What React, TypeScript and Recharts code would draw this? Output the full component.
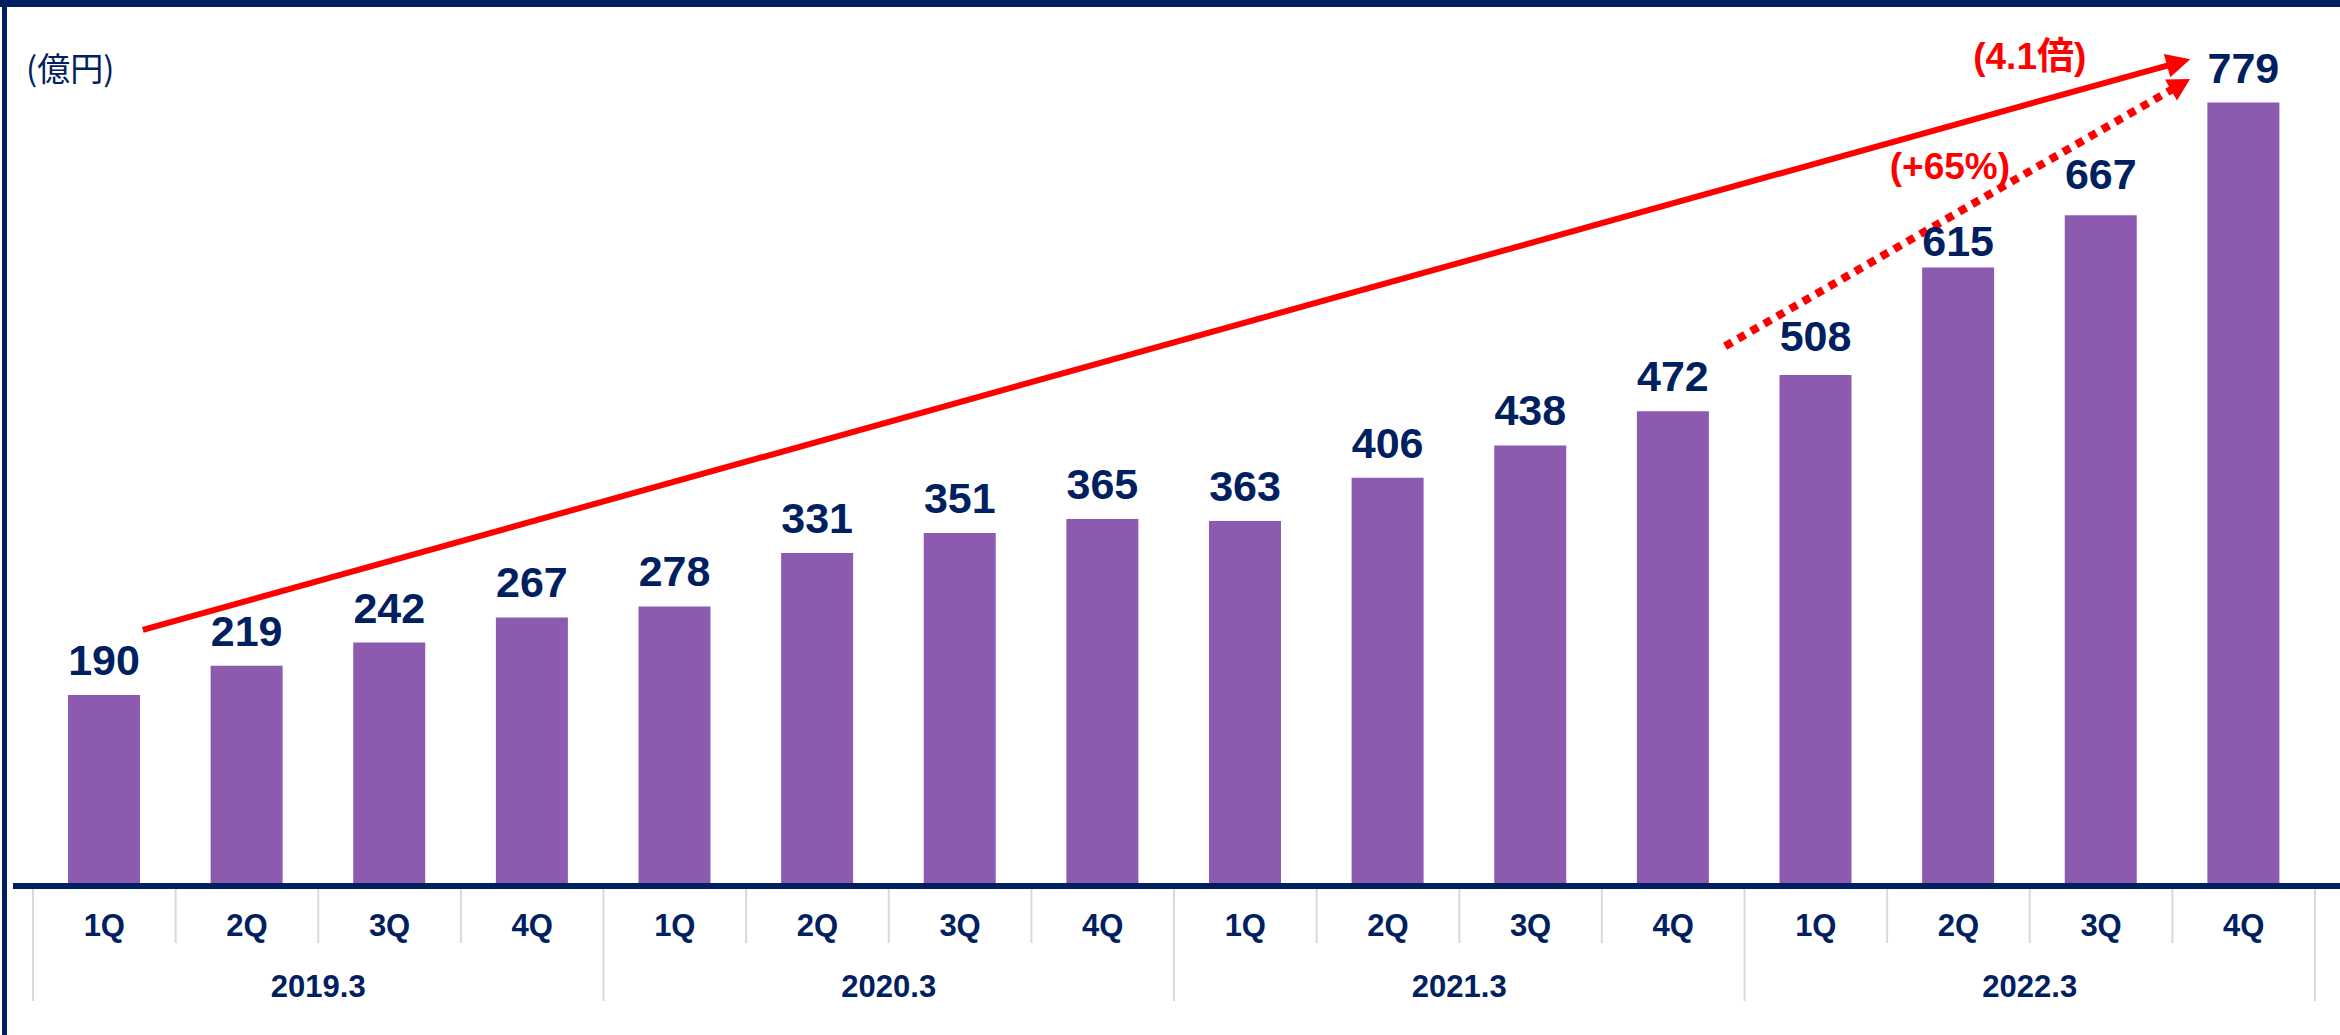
import React from 'react';
import {BarChart,Bar,XAxis,YAxis,LabelList,ReferenceLine} from 'recharts';

// 売上高 四半期推移（億円）
const quarters=['1Q','2Q','3Q','4Q','1Q','2Q','3Q','4Q','1Q','2Q','3Q','4Q','1Q','2Q','3Q','4Q'];
const fiscalYears=['2019.3','2019.3','2019.3','2019.3','2020.3','2020.3','2020.3','2020.3','2021.3','2021.3','2021.3','2021.3','2022.3','2022.3','2022.3','2022.3'];
const sales=[190,219,242,267,278,331,351,365,363,406,438,472,508,615,667,779];
const unitLabel='(億円)';

// growth arrows: category index + value at each end, trimmed to the drawn part
const arrowFrom=[0,11];
const arrowFromValue=[244,507];
const arrowTo=[15,15];
const arrowToValue=[837,833];
const arrowText=['(4.1倍)','(+65%)'];

const W=2340,H=1035;
const M={top:6,right:25,bottom:34,left:33};
const BW=(W-M.left-M.right)/16;
const NAVY='#002060',PURPLE='#8C5BB0',RED='#FF0000',GRID='#D9D9D9';
const FONT="'Liberation Sans', Arial, 'Noto Sans CJK JP', sans-serif";

const rows=sales.map((v,i)=>({key:`${fiscalYears[i]}-${quarters[i]}`,q:quarters[i],fy:fiscalYears[i],v}));

// per-arrow drawing tweaks (trim fractions, label spot)
const arrowStyle=[
  {t0:0.018,t1:0.975,at:0.90,lift:47,dashed:false},
  {t0:0.091,t1:0.906,at:0.485,lift:51,dashed:true},
];
// some value labels sit a little higher / lower than the default 20px
const labelLift:{[k:number]:number}={12:24,13:11,14:26};

const arrowShape=(i:number)=>(p:any)=>{
  const s=arrowStyle[i];
  const {x1,y1,x2,y2}=p;
  const dx=x2-x1,dy=y2-y1;
  const sx=x1+dx*s.t0,sy=y1+dy*s.t0,ex=x1+dx*s.t1,ey=y1+dy*s.t1;
  const len=Math.hypot(ex-sx,ey-sy),ux=(ex-sx)/len,uy=(ey-sy)/len;
  const head=s.dashed?22:24,half=12;
  const bx=ex-ux*head,by=ey-uy*head;
  const pts=`${ex},${ey} ${bx-uy*half},${by+ux*half} ${bx+uy*half},${by-ux*half}`;
  return(
    <g>
      <line x1={sx} y1={sy} x2={bx+ux*2} y2={by+uy*2} stroke={RED} strokeWidth={s.dashed?8:6} strokeDasharray={s.dashed?'8 7':undefined}/>
      <polygon points={pts} fill={RED}/>
      <text x={x1+dx*s.at} y={y1+dy*s.at-s.lift} textAnchor="middle" dominantBaseline="central" fill={RED} fontSize={37} fontWeight="bold" fontFamily={FONT}>{arrowText[i]}</text>
    </g>
  );
};

const axisShape=(p:any)=><line x1={p.x1-20} y1={p.y1} x2={W} y2={p.y2} stroke={NAVY} strokeWidth={6}/>;

// two-row category axis: quarter row, then fiscal-year row
const CatTick=(p:any)=>{
  const {x,y,payload}=p;
  const i=rows.findIndex(d=>d.key===payload.value);
  if(i<0)return null;
  const r=rows[i];
  const first=i===0||rows[i-1].fy!==r.fy;
  const last=i===rows.length-1;
  return(
    <g>
      <line x1={x-BW/2} y1={y+3} x2={x-BW/2} y2={y+(first?115:57)} stroke={GRID} strokeWidth={2}/>
      {last&&<line x1={x+BW/2} y1={y+3} x2={x+BW/2} y2={y+115} stroke={GRID} strokeWidth={2}/>}
      <text x={x} y={y+50} textAnchor="middle" fill={NAVY} fontSize={31} fontWeight="bold" fontFamily={FONT}>{r.q}</text>
      {i%4===1&&<text x={x+BW/2} y={y+111} textAnchor="middle" fill={NAVY} fontSize={31} fontWeight="bold" fontFamily={FONT}>{r.fy}</text>}
    </g>
  );
};

const ValueLabel=(p:any)=>{
  const {x,y,width,value,index}=p;
  const lift=labelLift[index]??20;
  return <text x={x+width/2} y={y-lift} textAnchor="middle" fill={NAVY} fontSize={43} fontWeight="bold" fontFamily={FONT}>{value}</text>;
};

const App:React.FC=()=>{
  return(
    <div style={{position:'absolute',left:0,top:0,width:W,height:H,background:'#fff',overflow:'hidden'}}>
      <BarChart width={W} height={H} data={rows} margin={M}>
        <XAxis dataKey="key" height={115} interval={0} tickSize={0} tickMargin={0} tickLine={false} axisLine={false} tick={<CatTick/>}/>
        <YAxis hide domain={[0,875]} allowDataOverflow/>
        <Bar dataKey="v" fill={PURPLE} barSize={72} isAnimationActive={false}>
          <LabelList dataKey="v" content={<ValueLabel/>}/>
        </Bar>
        <ReferenceLine y={0} shape={axisShape} ifOverflow="visible"/>
        {arrowFrom.map((f,i)=>(
          <ReferenceLine key={i} ifOverflow="visible"
            segment={[{x:rows[f].key,y:arrowFromValue[i]},{x:rows[arrowTo[i]].key,y:arrowToValue[i]}]}
            shape={arrowShape(i)}/>
        ))}
      </BarChart>
      {/* unit */}
      <div style={{position:'absolute',left:26,top:47,fontSize:33,lineHeight:'40px',color:NAVY,fontFamily:"'Noto Sans CJK JP', sans-serif"}}>{unitLabel}</div>
      {/* frame */}
      <div style={{position:'absolute',left:0,top:0,width:W,height:7,background:NAVY}}/>
      <div style={{position:'absolute',left:2,top:0,width:5,height:H,background:NAVY}}/>
    </div>
  );
};
export default App;
